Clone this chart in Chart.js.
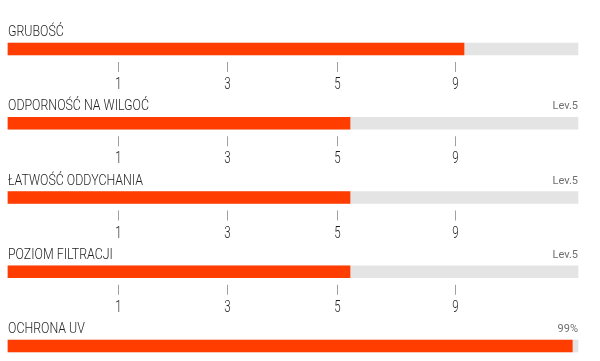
<!DOCTYPE html>
<html>
<head>
<meta charset="utf-8">
<script src="https://cdn.jsdelivr.net/npm/chart.js@4.4.0/dist/chart.umd.min.js"></script>
<style>
  html, body { margin: 0; padding: 0; background: #ffffff; }
  #wrap { width: 600px; height: 361px; }
</style>
</head>
<body>
<div id="wrap"><canvas id="c" width="600" height="361"></canvas></div>
<script>
// ---- data ----
const categories = ['GRUBOŚĆ', 'ODPORNOŚĆ NA WILGOĆ', 'ŁATWOŚĆ ODDYCHANIA', 'POZIOM FILTRACJI', 'OCHRONA UV'];
const values = [80, 60, 60, 60, 99];
const trackValues = [100, 100, 100, 100, 100];
const valueLabels = ['', 'Lev.5', 'Lev.5', 'Lev.5', '99%'];
const scaleTickLabels = ['1', '3', '5', '9'];
const scaleTickValues = [19.3, 38.4, 57.7, 78.4];
const showScale = [true, true, true, true, false];

const TITLE_FONT = "300 15px Roboto, 'Liberation Sans', sans-serif";
const TITLE_SCALE = 0.825;
const TICK_FONT = "300 16px Roboto, 'Liberation Sans', sans-serif";
const TICK_SCALE = 0.72;
const SMALL_FONT = "11px Roboto, 'Liberation Sans', sans-serif";

function drawNarrow(ctx, text, x, y, scale) {
  ctx.save();
  ctx.translate(x, y);
  ctx.scale(scale, 1);
  ctx.fillText(text, 0, 0);
  ctx.restore();
}

const overlay = {
  id: 'overlay',
  afterDatasetsDraw(chart) {
    const ctx = chart.ctx;
    const meta = chart.getDatasetMeta(0);
    const xs = chart.scales.x;
    const area = chart.chartArea;
    ctx.save();
    ctx.textBaseline = 'alphabetic';
    meta.data.forEach((bar, i) => {
      const y = bar.y;
      // title
      ctx.font = TITLE_FONT;
      ctx.fillStyle = '#1e1e1e';
      ctx.textAlign = 'left';
      drawNarrow(ctx, categories[i], area.left, y - 13, TITLE_SCALE);
      // right label
      if (valueLabels[i]) {
        ctx.font = SMALL_FONT;
        ctx.fillStyle = '#6f6f6f';
        ctx.textAlign = 'right';
        ctx.fillText(valueLabels[i], area.right, y - 14);
      }
      // scale ticks
      if (showScale[i]) {
        scaleTickValues.forEach((v, k) => {
          const px = Math.round(xs.getPixelForValue(v)) + 0.5;
          ctx.strokeStyle = '#a0a0a0';
          ctx.lineWidth = 1;
          ctx.beginPath();
          ctx.moveTo(px, y + 13);
          ctx.lineTo(px, y + 23);
          ctx.stroke();
          ctx.font = TICK_FONT;
          ctx.fillStyle = '#1e1e1e';
          ctx.textAlign = 'center';
          drawNarrow(ctx, scaleTickLabels[k], px, y + 40, TICK_SCALE);
        });
      }
    });
    ctx.restore();
  }
};

new Chart(document.getElementById('c'), {
  type: 'bar',
  data: {
    labels: categories,
    datasets: [
      {
        data: values,
        backgroundColor: '#ff3d00',
        barThickness: 12,
        grouped: false,
        borderWidth: 0,
        clip: false
      },
      {
        data: trackValues,
        backgroundColor: '#e4e4e4',
        barThickness: 12,
        grouped: false,
        borderWidth: 0,
        clip: false
      }
    ]
  },
  options: {
    indexAxis: 'y',
    responsive: false,
    devicePixelRatio: 1,
    animation: false,
    layout: { padding: { left: 8, right: 22, top: 49, bottom: 15 } },
    scales: {
      x: { min: 0, max: 100, display: false },
      y: { display: false, offset: false }
    },
    plugins: { legend: { display: false }, tooltip: { enabled: false } }
  },
  plugins: [overlay]
});
</script>
</body>
</html>
